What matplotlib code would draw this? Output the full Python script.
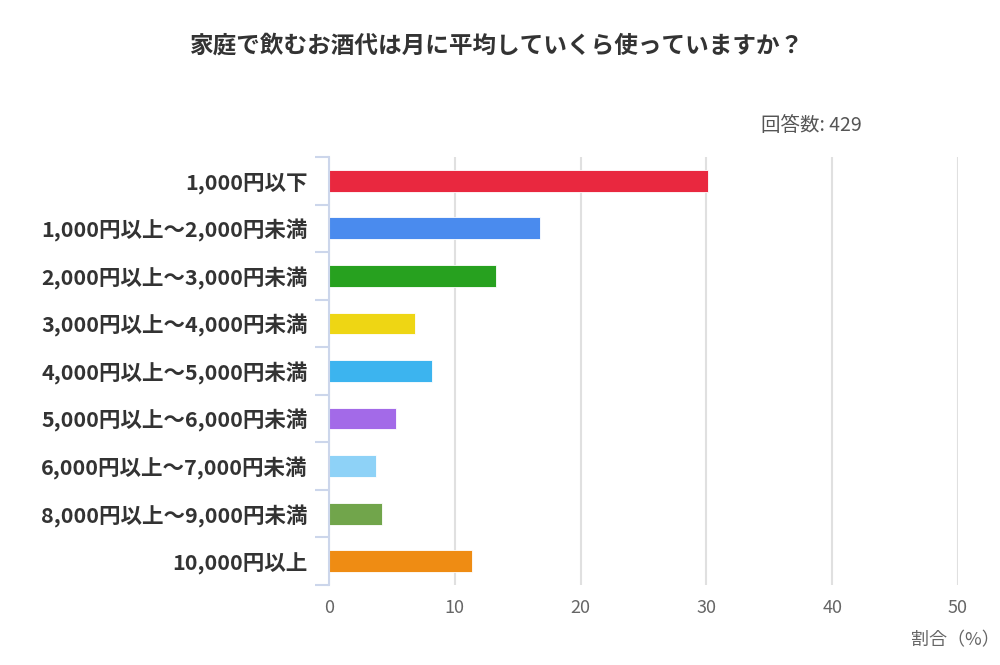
import matplotlib
matplotlib.use("Agg")
import matplotlib.pyplot as plt
import numpy as np

plt.rcParams['font.family'] = ['Noto Sans CJK JP', 'DejaVu Sans']

categories = [
    "1,000円以下",
    "1,000円以上～2,000円未満",
    "2,000円以上～3,000円未満",
    "3,000円以上～4,000円未満",
    "4,000円以上～5,000円未満",
    "5,000円以上～6,000円未満",
    "6,000円以上～7,000円未満",
    "8,000円以上～9,000円未満",
    "10,000円以上",
]
values = [30.1, 16.8, 13.3, 6.8, 8.2, 5.3, 3.7, 4.2, 11.4]
colors = ["#e9283f", "#4a8bee", "#27a11f", "#eed614", "#3cb4ef",
          "#a36ae8", "#8ed2f7", "#71a54b", "#ef8c13"]
xticks = [0, 10, 20, 30, 40, 50]

title = "家庭で飲むお酒代は月に平均していくら使っていますか？"
n_label = "回答数: 429"
x_label = "割合（%）"

fig = plt.figure(figsize=(10, 6.65), dpi=100)
ax = fig.add_axes([0.329, 0.1203, 0.629, 0.6436])

y = np.arange(len(categories))
ax.barh(y, values, height=0.46, color=colors, edgecolor="white", linewidth=0.6, zorder=3)

ax.set_xlim(0, 50)
ax.set_ylim(len(categories) - 0.5, -0.5)
ax.set_xticks(xticks)
ax.set_xticklabels([str(t) for t in xticks], color="#666666", fontsize=13)
ax.tick_params(axis="x", length=0, pad=10)

# category labels, boundary ticks on the left axis
ax.set_yticks(y)
ax.set_yticklabels(categories, fontsize=15.5, fontweight="bold", color="#333333")
ax.set_yticks(np.arange(len(categories) + 1) - 0.5, minor=True)
ax.tick_params(axis="y", which="major", length=0, pad=15.5)
ax.tick_params(axis="y", which="minor", length=10, width=1.5, color="#ccd6eb")

ax.grid(axis="x", color="#e0e0e0", linewidth=1.5, zorder=0)
for s in ["top", "right", "bottom"]:
    ax.spines[s].set_visible(False)
ax.spines["left"].set_color("#ccd6eb")
ax.spines["left"].set_linewidth(1.5)
ax.spines["left"].set_zorder(4)

fig.text(0.497, 0.932, title, ha="center", va="center", fontsize=17,
         fontweight="bold", color="#333333")
fig.text(0.862, 0.812, n_label, ha="right", va="center", fontsize=14, color="#555555")
fig.text(1.0, 0.037, x_label, ha="right", va="center", fontsize=13, color="#666666")

fig.savefig("out.png", dpi=100)
